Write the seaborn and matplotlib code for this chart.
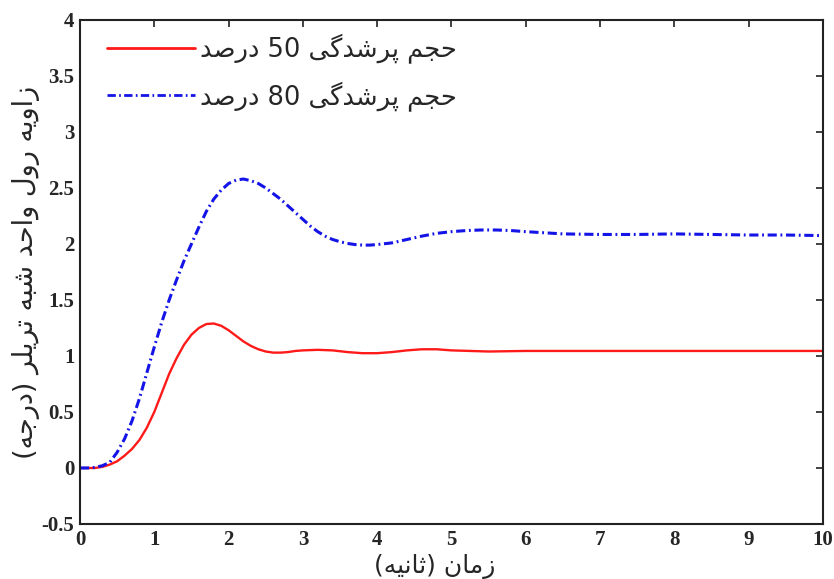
import matplotlib
matplotlib.use("Agg")
import matplotlib.pyplot as plt
import seaborn as sns
import pandas as pd

# Roll angle response of the semi-trailer unit for two fill levels
t_50 = [0.0, 0.1, 0.2, 0.3, 0.4, 0.5, 0.6, 0.7, 0.8, 0.9, 1.0, 1.1, 1.2, 1.3, 1.4,
        1.5, 1.6, 1.7, 1.8, 1.9, 2.0, 2.1, 2.2, 2.3, 2.4, 2.5, 2.6, 2.7, 2.8, 2.9,
        3.0, 3.2, 3.4, 3.6, 3.8, 4.0, 4.2, 4.4, 4.6, 4.8, 5.0, 5.25, 5.5, 6.0, 6.5,
        7.0, 8.0, 9.0, 10.0]
roll_50 = [0.0, 0.0, 0.0, 0.01, 0.03, 0.06, 0.11, 0.17, 0.25, 0.36, 0.50, 0.67, 0.84,
           0.98, 1.10, 1.19, 1.25, 1.285, 1.29, 1.27, 1.23, 1.18, 1.13, 1.09, 1.06,
           1.04, 1.03, 1.03, 1.035, 1.045, 1.05, 1.055, 1.05, 1.035, 1.025, 1.025,
           1.035, 1.05, 1.06, 1.06, 1.05, 1.045, 1.04, 1.045, 1.045, 1.045, 1.045,
           1.045, 1.045]

t_80 = [0.0, 0.1, 0.2, 0.3, 0.4, 0.5, 0.6, 0.7, 0.8, 0.9, 1.0, 1.1, 1.2, 1.3, 1.4,
        1.5, 1.6, 1.7, 1.8, 1.9, 2.0, 2.1, 2.2, 2.3, 2.4, 2.5, 2.6, 2.7, 2.8, 2.9,
        3.0, 3.1, 3.2, 3.3, 3.4, 3.5, 3.6, 3.7, 3.8, 3.9, 4.0, 4.2, 4.4, 4.6, 4.8,
        5.0, 5.2, 5.4, 5.6, 5.8, 6.0, 6.25, 6.5, 7.0, 7.5, 8.0, 8.5, 9.0, 9.5, 10.0]
roll_80 = [0.0, 0.0, 0.005, 0.02, 0.05, 0.14, 0.26, 0.42, 0.62, 0.85, 1.08, 1.30,
           1.50, 1.68, 1.85, 2.00, 2.15, 2.29, 2.40, 2.48, 2.54, 2.57, 2.58, 2.565,
           2.54, 2.50, 2.45, 2.40, 2.34, 2.28, 2.22, 2.16, 2.11, 2.07, 2.04, 2.02,
           2.005, 1.995, 1.99, 1.99, 1.995, 2.01, 2.04, 2.07, 2.095, 2.11, 2.12,
           2.125, 2.125, 2.12, 2.11, 2.10, 2.09, 2.085, 2.085, 2.09, 2.085, 2.08,
           2.08, 2.075]

label_50 = "حجم پرشدگی 50 درصد"
label_80 = "حجم پرشدگی 80 درصد"
x_label = "زمان (ثانیه)"
y_label = "زاویه رول واحد شبه تریلر (درجه)"

x_ticks = [0, 1, 2, 3, 4, 5, 6, 7, 8, 9, 10]
y_ticks = [-0.5, 0, 0.5, 1, 1.5, 2, 2.5, 3, 3.5, 4]
y_tick_labels = ["-0.5", "0", "0.5", "1", "1.5", "2", "2.5", "3", "3.5", "4"]


# --- minimal Persian shaping + visual ordering for matplotlib text ---
FORMS = {  # isolated, final, initial, medial
    "ا": ("\uFE8D", "\uFE8E", None, None),
    "ب": ("\uFE8F", "\uFE90", "\uFE91", "\uFE92"),
    "پ": ("\uFB56", "\uFB57", "\uFB58", "\uFB59"),
    "ت": ("\uFE95", "\uFE96", "\uFE97", "\uFE98"),
    "ث": ("\uFE99", "\uFE9A", "\uFE9B", "\uFE9C"),
    "ج": ("\uFE9D", "\uFE9E", "\uFE9F", "\uFEA0"),
    "ح": ("\uFEA1", "\uFEA2", "\uFEA3", "\uFEA4"),
    "د": ("\uFEA9", "\uFEAA", None, None),
    "ر": ("\uFEAD", "\uFEAE", None, None),
    "ز": ("\uFEAF", "\uFEB0", None, None),
    "ش": ("\uFEB5", "\uFEB6", "\uFEB7", "\uFEB8"),
    "ص": ("\uFEB9", "\uFEBA", "\uFEBB", "\uFEBC"),
    "گ": ("\uFB92", "\uFB93", "\uFB94", "\uFB95"),
    "ل": ("\uFEDD", "\uFEDE", "\uFEDF", "\uFEE0"),
    "م": ("\uFEE1", "\uFEE2", "\uFEE3", "\uFEE4"),
    "ن": ("\uFEE5", "\uFEE6", "\uFEE7", "\uFEE8"),
    "ه": ("\uFEE9", "\uFEEA", "\uFEEB", "\uFEEC"),
    "و": ("\uFEED", "\uFEEE", None, None),
    "ی": ("\uFBFC", "\uFBFD", "\uFBFE", "\uFBFF"),
}


def joins_left(ch):
    return ch in FORMS and FORMS[ch][2] is not None


def shape(text):
    out = []
    for i, ch in enumerate(text):
        if ch not in FORMS:
            out.append(ch)
            continue
        prev = text[i - 1] if i > 0 else ""
        nxt = text[i + 1] if i + 1 < len(text) else ""
        to_prev = joins_left(prev)
        to_next = joins_left(ch) and nxt in FORMS
        iso, fin, ini, med = FORMS[ch]
        if to_prev and to_next:
            out.append(med)
        elif to_prev:
            out.append(fin)
        elif to_next:
            out.append(ini)
        else:
            out.append(iso)
    return "".join(out)


def fa(text):
    rev = shape(text)[::-1]
    # keep digit runs left-to-right, mirror brackets
    res, run = [], []
    for ch in rev:
        if ch.isdigit() or ch == ".":
            run.append(ch)
        else:
            if run:
                res.extend(run[::-1])
                run = []
            res.append({"(": ")", ")": "("}.get(ch, ch))
    if run:
        res.extend(run[::-1])
    return "".join(res)


df = pd.concat([
    pd.DataFrame({"t": t_50, "roll": roll_50, "case": fa(label_50)}),
    pd.DataFrame({"t": t_80, "roll": roll_80, "case": fa(label_80)}),
], ignore_index=True)

sns.set_style("white")
plt.rcParams["font.family"] = ["DejaVu Sans"]

fig = plt.figure(figsize=(8.34, 5.79), dpi=100)
ax = fig.add_axes([0.0959, 0.095, 0.8909, 0.8705])

palette = {fa(label_50): "#ff1a1a", fa(label_80): "#1414e6"}
dashes = {fa(label_50): "", fa(label_80): (3, 1.2, 0.6, 1.2)}
sns.lineplot(data=df, x="t", y="roll", hue="case", style="case",
             palette=palette, dashes=dashes, sort=False, estimator=None,
             linewidth=2.0, ax=ax)
for ln in ax.get_lines():
    if ln.get_color() == "#ff1a1a":
        ln.set_linewidth(1.7)
    else:
        ln.set_linewidth(2.2)

ax.set_xlim(0, 10)
ax.set_ylim(-0.5, 4)
ax.set_xticks(x_ticks)
ax.set_yticks(y_ticks)
ax.set_yticklabels(y_tick_labels)
for lab in ax.get_xticklabels() + ax.get_yticklabels():
    lab.set_fontfamily("Liberation Serif")
    lab.set_fontweight("bold")
    lab.set_fontsize(15)
ax.tick_params(direction="in", length=5, width=1.2, top=True, right=True,
               color="#222222", pad=4)
for sp in ax.spines.values():
    sp.set_visible(True)
    sp.set_linewidth(1.5)
    sp.set_color("#222222")

ax.set_xlabel(fa(x_label), fontsize=18)
ax.xaxis.set_label_coords(0.478, -0.084, transform=ax.transAxes)
ax.xaxis.label.set_va("center")
ax.set_ylabel(fa(y_label), fontsize=19.5, labelpad=1)

leg = ax.legend(loc="upper left", bbox_to_anchor=(0.023, 0.994),
                frameon=False, fontsize=18.5, borderaxespad=0,
                handlelength=3.4, handletextpad=0.2, labelspacing=0.7)
for h in leg.get_lines():
    h.set_linewidth(2.0)

fig.savefig("out.png", dpi=100)
